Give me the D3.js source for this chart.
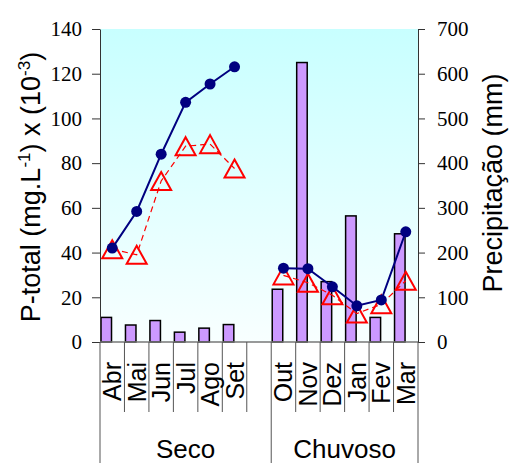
<!DOCTYPE html>
<html lang="pt">
<head>
<meta charset="UTF-8" />
<title>P-total e precipitação</title>
<script src="https://d3js.org/d3.v7.min.js"></script>
<style>
  body { margin: 0; background: #fff; }
  svg { display: block; }
  .axis path, .axis line { stroke: #333; stroke-width: 1px; }
  .cat, .group, .title { font-family: "Liberation Sans", Arial, sans-serif; fill: #000; }
  .cat { font-size: 25px; }
  .group { font-size: 26px; }
  .title { font-size: 27px; }
  .sep { stroke: #555; stroke-width: 1px; }
</style>
</head>
<body>
<svg id="chart" width="512" height="463"></svg>
<script>
// categorias (a posição vazia separa os dois períodos)
const months = ["Abr", "Mai", "Jun", "Jul", "Ago", "Set", "", "Out", "Nov", "Dez", "Jan", "Fev", "Mar"];
const groupNames = ["Seco", "Chuvoso"];
const groupSizes = [7, 6];

// precipitação (mm), eixo direito
const precipitacao = [55, 38, 48, 22, 31, 39, null, 118, 625, 135, 282, 55, 242];
// P-total (mg.L-1) x 10-3, eixo esquerdo
const pTotalA = [42, 58.4, 84, 107.2, 115.4, 123.1, null, 33, 32.8, 24.7, 16.2, 18.8, 49.3];
const pTotalB = [41.5, 39, 72, 87.6, 88.5, 77.6, null, 29.8, 26.5, 20.9, 12.7, 16.9, 27.4];

const leftTicks = [0, 20, 40, 60, 80, 100, 120, 140];
const rightTicks = [0, 100, 200, 300, 400, 500, 600, 700];

const svg = d3.select("#chart");
const plot = { left: 100, right: 418, top: 29, bottom: 342 };

const x = d3.scaleBand()
  .domain(d3.range(months.length))
  .range([plot.left, plot.right]);
const bw = x.bandwidth();
const yL = d3.scaleLinear().domain([0, 140]).range([plot.bottom, plot.top]);
const yR = d3.scaleLinear().domain([0, 700]).range([plot.bottom, plot.top]);

// fundo com degradê
const grad = svg.append("defs").append("linearGradient")
  .attr("id", "bg").attr("x1", 0).attr("y1", 0).attr("x2", 0).attr("y2", 1);
grad.append("stop").attr("offset", "0%").attr("stop-color", "#c8ffff");
grad.append("stop").attr("offset", "100%").attr("stop-color", "#f8ffff");

svg.append("rect")
  .attr("x", plot.left).attr("y", plot.top)
  .attr("width", plot.right - plot.left).attr("height", plot.bottom - plot.top)
  .attr("fill", "url(#bg)");

// barras de precipitação
svg.append("g")
  .selectAll("rect")
  .data(precipitacao.map((v, i) => ({ v, i })).filter(d => d.v != null))
  .join("rect")
  .attr("x", d => x(d.i) + 1)
  .attr("y", d => yR(d.v))
  .attr("width", bw * 0.43)
  .attr("height", d => yR(0) - yR(d.v))
  .attr("fill", "#cc99ff")
  .attr("stroke", "#000")
  .attr("stroke-width", 1.5);

const cx = i => x(i) + bw / 2;

// série tracejada com triângulos
const lineB = d3.line()
  .defined(d => d != null)
  .x((d, i) => cx(i))
  .y(d => yL(d));

svg.append("path")
  .attr("d", lineB(pTotalB))
  .attr("fill", "none")
  .attr("stroke", "#ff0000")
  .attr("stroke-width", 1.2)
  .attr("stroke-dasharray", "6,4");

svg.append("g")
  .selectAll("path")
  .data(pTotalB.map((v, i) => ({ v, i })).filter(d => d.v != null))
  .join("path")
  .attr("transform", d => `translate(${cx(d.i)},${yL(d.v)})`)
  .attr("d", "M0,-9L10,9L-10,9Z")
  .attr("fill", "none")
  .attr("stroke", "#ff0000")
  .attr("stroke-width", 2);

// série contínua com círculos
svg.append("path")
  .attr("d", lineB(pTotalA))
  .attr("fill", "none")
  .attr("stroke", "#000080")
  .attr("stroke-width", 2);

svg.append("g")
  .selectAll("circle")
  .data(pTotalA.map((v, i) => ({ v, i })).filter(d => d.v != null))
  .join("circle")
  .attr("cx", d => cx(d.i))
  .attr("cy", d => yL(d.v))
  .attr("r", 5.5)
  .attr("fill", "#000080");

// eixos
const serif = "Tinos, 'Nimbus Roman', 'Noto Serif', FreeSerif, 'DejaVu Serif', 'Liberation Serif', serif";

svg.append("g")
  .attr("class", "axis")
  .attr("transform", `translate(${plot.left},0)`)
  .call(d3.axisLeft(yL).tickValues(leftTicks).tickSize(8).tickSizeOuter(0).tickPadding(10))
  .call(g => g.attr("font-family", serif).attr("font-size", 21))
  .call(g => g.selectAll("text").attr("fill", "#000"));

svg.append("g")
  .attr("class", "axis")
  .attr("transform", `translate(${plot.right},0)`)
  .call(d3.axisRight(yR).tickValues(rightTicks).tickSize(7).tickSizeOuter(0).tickPadding(12))
  .call(g => g.attr("font-family", serif).attr("font-size", 21))
  .call(g => g.selectAll("text").attr("fill", "#000"));

svg.append("line")
  .attr("x1", plot.left).attr("x2", plot.right)
  .attr("y1", plot.bottom).attr("y2", plot.bottom)
  .attr("stroke", "#777").attr("stroke-width", 1.5);

// separadores das categorias
const groupStarts = [0];
groupSizes.forEach((s, k) => groupStarts.push(groupStarts[k] + s));
const edge = i => (i < months.length ? x(i) : plot.right);

svg.append("g")
  .selectAll("line")
  .data(d3.range(months.length + 1))
  .join("line")
  .attr("class", "sep")
  .attr("x1", i => edge(i)).attr("x2", i => edge(i))
  .attr("y1", plot.bottom)
  .attr("y2", i => (groupStarts.includes(i) ? 463 : 412));

svg.append("g")
  .selectAll("text")
  .data(months.map((m, i) => ({ m, i })).filter(d => d.m))
  .join("text")
  .attr("class", "cat")
  .attr("transform", d => `translate(${cx(d.i)},362) rotate(-90)`)
  .attr("text-anchor", "end")
  .attr("dy", "0.36em")
  .text(d => d.m);

svg.append("g")
  .selectAll("text")
  .data(groupNames)
  .join("text")
  .attr("class", "group")
  .attr("x", (g, k) => (edge(groupStarts[k]) + edge(groupStarts[k + 1])) / 2)
  .attr("y", 458)
  .attr("text-anchor", "middle")
  .text(g => g);

// títulos dos eixos
const tL = svg.append("text")
  .attr("class", "title")
  .attr("transform", `translate(40,187) rotate(-90)`)
  .attr("text-anchor", "middle");
tL.append("tspan").text("P-total (mg.L");
tL.append("tspan").attr("dy", -10).attr("font-size", "17px").text("-1");
tL.append("tspan").attr("dy", 10).text(") x (10");
tL.append("tspan").attr("dy", -10).attr("font-size", "17px").text("-3");
tL.append("tspan").attr("dy", 10).text(")");

svg.append("text")
  .attr("class", "title")
  .attr("transform", `translate(502,183) rotate(-90)`)
  .attr("text-anchor", "middle")
  .text("Precipitação (mm)");
</script>
</body>
</html>
